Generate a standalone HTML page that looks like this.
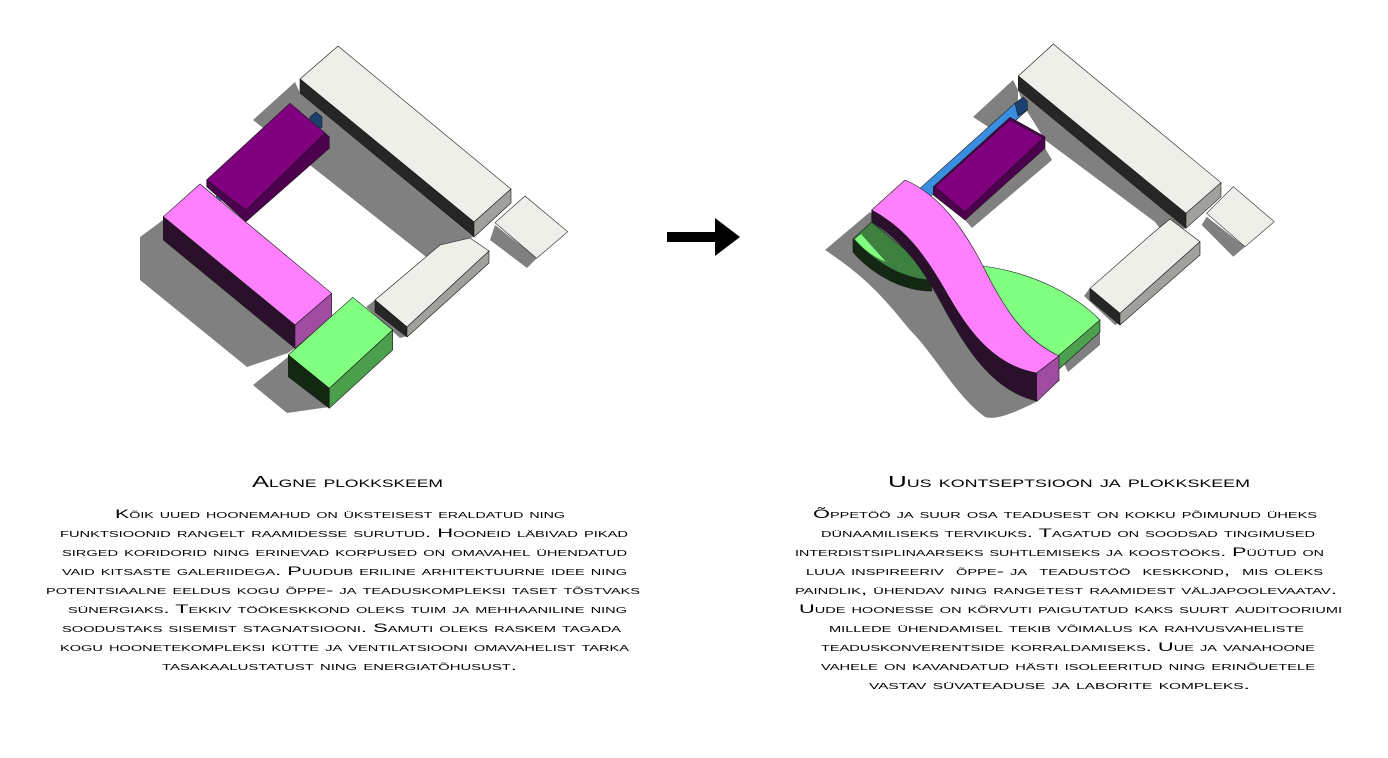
<!DOCTYPE html>
<html><head><meta charset="utf-8"><style>
html,body{margin:0;padding:0;background:#fff;}
svg{display:block;}
text{font-family:"Liberation Sans",sans-serif;font-variant:small-caps;fill:#000;}
.b{font-size:12px;}
.t{font-size:16px;}
</style></head><body>
<svg width="1388" height="758" viewBox="0 0 1388 758" xmlns="http://www.w3.org/2000/svg">
<g stroke="#1a1a1a" stroke-width="0.6" stroke-linejoin="round">
<!-- LEFT shadows -->
<g fill="#808080" stroke="none">
<polygon points="295,82 253,120 430,260 447,243 473,237 300,93"/>
<polygon points="163,220 140,237 140,280 247,367 288,353 295,348 163,240"/>
<polygon points="288,357 253,385 287,413 329,407"/>
<polygon points="495,225 490,240 527,268 537,258"/>
<polygon points="440,240 458,226 473,237 447,245"/>
<polygon points="375,300 366,307 400,338 407,336"/>
</g>
<!-- big white -->
<polygon fill="#efefea" points="300,79 338,46 511,189 474,222"/>
<polygon fill="#262626" points="300,79 474,222 474,237 300,93"/>
<polygon fill="#a0a09c" points="474,222 511,189 511,203 474,237"/>
<!-- small white -->
<polygon fill="#efefea" points="495,222.7 525,196 567.7,231.7 536.7,258.3"/>
<!-- mid white -->
<polygon fill="#efefea" points="375,300 440,245 470,238 489,251 407,327"/>
<polygon fill="#262626" points="375,300 407,327 407,337 375,312"/>
<polygon fill="#a0a09c" points="407,327 489,251 489,263 407,337"/>
<!-- blue connectors -->
<polygon fill="#1a4070" points="310,117 316,112 322,117 322,127 316,132 310,127"/>
<polygon fill="#3a8ee0" points="216,197 220,194 224,197 220,201"/>
<polygon fill="#1a4070" points="312,320 318,315 324,320 324,331 312,331"/>
<polygon fill="#3a8ee0" points="312,320 318,315 324,320 318,325"/>
<!-- purple -->
<polygon fill="#4d004d" points="206.7,180 290,103.3 329.3,136.7 329.3,148.3 246,221.7 206.7,186.7"/>
<polygon fill="#800080" points="206.7,180 290,103.3 325,133 246,210"/>
<!-- pink -->
<polygon fill="#ff80ff" points="163.3,216.7 200,184 331.7,293.3 295,325"/>
<polygon fill="#2a102a" points="163.3,216.7 295,325 295,348.3 163.3,240"/>
<polygon fill="#a04ca0" points="295,325 331.7,293.3 331.7,316.7 295,348.3"/>
<!-- green -->
<polygon fill="#80ff80" points="288.3,355 352.7,297.3 392.7,330 329.3,388.3"/>
<polygon fill="#122812" points="288.3,355 329.3,388.3 329.3,408.3 288.3,376.7"/>
<polygon fill="#4c9f4c" points="329.3,388.3 392.7,330 392.7,350 329.3,408.3"/>

<!-- ARROW -->
<polygon fill="#000" stroke="none" points="667,232 715,232 715,218 740,237 715,256 715,242 667,242"/>

<!-- RIGHT shadows -->
<g fill="#808080" stroke="none">
<path d="M825,250 L870,212 L1060,380 L1036,402 C1010,415 995,420 985,417 C955,395 935,355 910,330 C885,300 870,280 825,250 Z"/>
<polygon points="973,117 1013,80 1018,90 1018,112 990,128"/>
<polygon points="1018,90 1186,228 1165,235 1155,222 1045,140 1025,108"/>
<polygon points="965,220 1045,148 1052,160 972,228"/>
<polygon points="1206.7,216.7 1201.7,225 1233.3,256.7 1245,246.7"/>
<polygon points="1153,233 1170,219 1186,228 1160,235"/>
<polygon points="1090,288 1084,296 1115,325 1120,323"/>
<polygon points="1060,355 1100,332 1100,345 1068,372"/>
</g>
<!-- big white -->
<polygon fill="#efefea" points="1018.3,76 1053.3,44 1221,182.7 1186,213.3"/>
<polygon fill="#262626" points="1018.3,76 1186,213.3 1186,228.3 1018.3,90"/>
<polygon fill="#a0a09c" points="1186,213.3 1221,182.7 1221,196.7 1186,228.3"/>
<!-- small white -->
<polygon fill="#efefea" points="1206.7,213.3 1233.3,186.7 1274.3,221.7 1245,246.7"/>
<!-- mid white -->
<polygon fill="#efefea" points="1090,288.3 1153,233 1170,219 1200,241.7 1120,313.3"/>
<polygon fill="#262626" points="1090,288.3 1120,313.3 1120,325 1090,300"/>
<polygon fill="#a0a09c" points="1120,313.3 1200,241.7 1200,255 1120,325"/>
<!-- blue corridor -->
<polygon fill="#3a8ee0" points="920,188.3 1015,103.3 1023.3,97.3 1027.3,101.7 1027.3,110 930,196.7"/>
<polygon fill="#1a4070" points="1015,103.3 1023.3,97.3 1027.3,101.7 1027.3,110 1018,116"/>
<!-- purple -->
<polygon fill="#4d004d" points="933.3,186.7 1010,117.3 1045,136.7 1045,148.3 965,220 933.3,195"/>
<polygon fill="#800080" points="935,186.7 1010,120 1043,138 965,211.7"/>
<!-- left green lens -->
<path fill="#122812" d="M853,239 C875,262 900,278 930,280 L932,291 C900,291 870,272 853,252 Z"/>
<path fill="#3e8040" d="M853,239 L871.7,222 L932,272 L930,280 C900,278 875,262 853,239 Z"/>
<path fill="#80ff80" stroke="none" d="M855,239 L861,234 L886,262 C872,256 862,248 855,239 Z"/>
<!-- right green -->
<path fill="#80ff80" d="M975,265 C1040,272 1080,300 1100,320 L1058,358 L1020,330 Z"/>
<polygon fill="#4c9f4c" points="1058,356 1100,320 1100,332 1058,370"/>
<!-- pink S -->
<path fill="#2a102a" d="M871.7,210 C905,228 925,255 945,290 C965,325 990,365 1036.7,373 L1036.7,401 C990,390 965,345 945,310 C925,272 905,242 871.7,222 Z"/>
<path fill="#ff80ff" d="M905,180 C940,195 965,230 985,270 C1005,310 1025,340 1059,356 L1036.7,373 C990,365 965,325 945,290 C925,255 905,228 871.7,210 Z"/>
<polygon fill="#a04ca0" points="1036.7,373 1059,356 1059,380 1036.7,401.7"/>
</g>

<!-- TEXT -->
<text class="t" x="252" y="487" textLength="191" lengthAdjust="spacingAndGlyphs">Algne plokkskeem</text>
<text class="t" x="888" y="487" textLength="362" lengthAdjust="spacingAndGlyphs">Uus kontseptsioon ja plokkskeem</text>
<g class="b">
<text class="b" x="115" y="518" textLength="450" lengthAdjust="spacingAndGlyphs">Kõik uued hoonemahud on üksteisest eraldatud ning</text>
<text class="b" x="60" y="537" textLength="568" lengthAdjust="spacingAndGlyphs">funktsioonid rangelt raamidesse surutud. Hooneid läbivad pikad</text>
<text class="b" x="62" y="556" textLength="565" lengthAdjust="spacingAndGlyphs">sirged koridorid ning erinevad korpused on omavahel ühendatud</text>
<text class="b" x="62" y="575" textLength="565" lengthAdjust="spacingAndGlyphs">vaid kitsaste galeriidega. Puudub eriline arhitektuurne idee ning</text>
<text class="b" x="46" y="594" textLength="594" lengthAdjust="spacingAndGlyphs">potentsiaalne eeldus kogu õppe- ja teaduskompleksi taset tõstvaks</text>
<text class="b" x="68" y="613" textLength="559" lengthAdjust="spacingAndGlyphs">sünergiaks. Tekkiv töökeskkond oleks tuim ja mehhaaniline ning</text>
<text class="b" x="62" y="632" textLength="559" lengthAdjust="spacingAndGlyphs">soodustaks sisemist stagnatsiooni. Samuti oleks raskem tagada</text>
<text class="b" x="60" y="651" textLength="569" lengthAdjust="spacingAndGlyphs">kogu hoonetekompleksi kütte ja ventilatsiooni omavahelist tarka</text>
<text class="b" x="162" y="670" textLength="355" lengthAdjust="spacingAndGlyphs">tasakaalustatust ning energiatõhusust.</text>

<text class="b" x="813" y="518" textLength="504" lengthAdjust="spacingAndGlyphs">Õppetöö ja suur osa teadusest on kokku põimunud üheks</text>
<text class="b" x="821" y="537" textLength="494" lengthAdjust="spacingAndGlyphs">dünaamiliseks tervikuks. Tagatud on soodsad tingimused</text>
<text class="b" x="795" y="556" textLength="529" lengthAdjust="spacingAndGlyphs">interdistsiplinaarseks suhtlemiseks ja koostööks. Püütud on</text>
<text class="b" x="806" y="575" textLength="517" lengthAdjust="spacingAndGlyphs" xml:space="preserve">luua inspireeriv  õppe- ja  teadustöö  keskkond,  mis oleks</text>
<text class="b" x="795" y="594" textLength="542" lengthAdjust="spacingAndGlyphs">paindlik, ühendav ning rangetest raamidest väljapoolevaatav.</text>
<text class="b" x="799" y="613" textLength="543" lengthAdjust="spacingAndGlyphs">Uude hoonesse on kõrvuti paigutatud kaks suurt auditooriumi</text>
<text class="b" x="829" y="632" textLength="475" lengthAdjust="spacingAndGlyphs">millede ühendamisel tekib võimalus ka rahvusvaheliste</text>
<text class="b" x="821" y="651" textLength="494" lengthAdjust="spacingAndGlyphs">teaduskonverentside korraldamiseks. Uue ja vanahoone</text>
<text class="b" x="821" y="670" textLength="494" lengthAdjust="spacingAndGlyphs">vahele on kavandatud hästi isoleeritud ning erinõuetele</text>
<text class="b" x="869" y="689" textLength="381" lengthAdjust="spacingAndGlyphs">vastav süvateaduse ja laborite kompleks.</text>
</g>
</svg>
</body></html>
